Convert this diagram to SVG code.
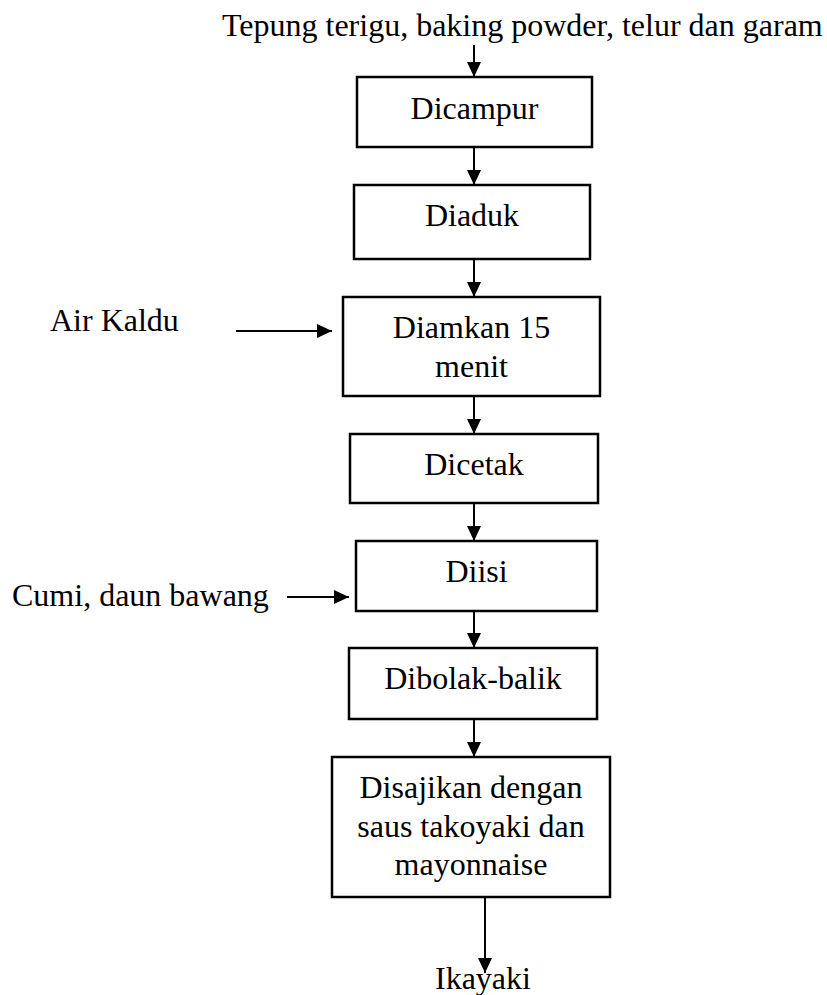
<svg xmlns="http://www.w3.org/2000/svg" width="827" height="995" viewBox="0 0 827 995">
<defs>
<style>
.box{fill:#fff;stroke:#000;stroke-width:2.5}
.t{font-family:"Liberation Serif","Times New Roman",serif;font-size:32px;fill:#000}
.c{text-anchor:middle}
.ln{stroke:#000;stroke-width:2;fill:none;marker-end:url(#ah)}
</style>
<marker id="ah" markerUnits="userSpaceOnUse" markerWidth="16" markerHeight="14" refX="15" refY="7" orient="auto">
<path d="M0,0 L15,7 L0,14 Z" fill="#000"/>
</marker>
</defs>
<rect width="827" height="995" fill="#fff"/>
<g id="connectors">
<line class="ln" x1="474" y1="45" x2="474" y2="77"/>
<line class="ln" x1="474" y1="147" x2="474" y2="185"/>
<line class="ln" x1="474" y1="259" x2="474" y2="297"/>
<line class="ln" x1="236" y1="331" x2="332" y2="331"/>
<line class="ln" x1="474" y1="396" x2="474" y2="434"/>
<line class="ln" x1="474" y1="503" x2="474" y2="541"/>
<line class="ln" x1="287" y1="597" x2="349" y2="597"/>
<line class="ln" x1="474" y1="611" x2="474" y2="648"/>
<line class="ln" x1="474" y1="719" x2="474" y2="757"/>
<line class="ln" x1="485" y1="897" x2="485" y2="973"/>
</g>
<g id="input-top"><text class="t" x="222" y="36">Tepung terigu, baking powder, telur dan garam</text></g>
<g id="dicampur"><rect class="box" x="357" y="77" width="235" height="70"/><text class="t c" x="474.5" y="119">Dicampur</text></g>
<g id="diaduk"><rect class="box" x="354" y="185" width="236" height="74"/><text class="t c" x="472" y="226">Diaduk</text></g>
<g id="air-kaldu"><text class="t" x="50" y="331">Air Kaldu</text></g>
<g id="diamkan"><rect class="box" x="343" y="297" width="257" height="99"/><text class="t c" x="471.5" y="338">Diamkan 15</text><text class="t c" x="471.5" y="377">menit</text></g>
<g id="dicetak"><rect class="box" x="350" y="434" width="248" height="69"/><text class="t c" x="474" y="475">Dicetak</text></g>
<g id="cumi"><text class="t" x="12" y="606">Cumi, daun bawang</text></g>
<g id="diisi"><rect class="box" x="356" y="541" width="241" height="70"/><text class="t c" x="476.5" y="582">Diisi</text></g>
<g id="dibolak"><rect class="box" x="349" y="648" width="248" height="71"/><text class="t c" x="473" y="689">Dibolak-balik</text></g>
<g id="disajikan"><rect class="box" x="332" y="757" width="278" height="140"/><text class="t c" x="471" y="798">Disajikan dengan</text><text class="t c" x="471" y="837">saus takoyaki dan</text><text class="t c" x="471" y="875">mayonnaise</text></g>
<g id="ikayaki"><text class="t" x="435" y="989">Ikayaki</text></g>
</svg>
